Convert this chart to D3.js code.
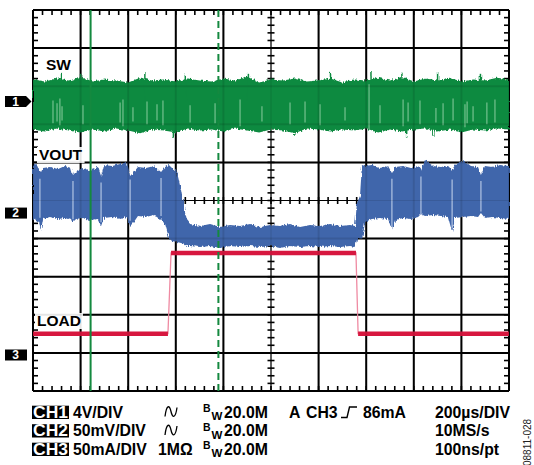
<!DOCTYPE html>
<html><head><meta charset="utf-8">
<script src="https://cdn.jsdelivr.net/npm/d3@7"></script>
<style>
body{margin:0;background:#fff}
svg{display:block}
text{font-family:"Liberation Sans",Arial,Helvetica,sans-serif}
</style>
</head><body>
<svg id="c" width="534" height="465"></svg>
<script>
// ---------------- DATA ----------------
// time axis: 200 µs/div, 10 divisions
const timeTicks = [0,200,400,600,800,1000,1200,1400,1600,1800,2000];
const divTicks = [-5,-4,-3,-2,-1,0,1,2,3,4,5];
// channel settings
const chNames = ["CH1","CH2","CH3"];
const chScaleText = ["4V/DIV","50mV/DIV","50mA/DIV"];
const chPerDiv = [4, 50, 50];          // V, mV, mA per division
const chOffsetDiv = [2.6, -0.33, -4.055]; // ground marker position (div from centre)
const chBandwidth = ["20.0M","20.0M","20.0M"];
const triggerText = ["A","CH3","86mA"];
const timebaseText = ["200µs/DIV","10MS/s","100ns/pt"];
const traceLabels = ["SW","VOUT","LOAD"];
const figureId = "08811-028";

// CH1 SW node (V, AC coupled) envelope
const swTime = [0,50,100,150,200,250,300,350,400,450,500,550,600,650,700,750,800,850,900,950,1000,1050,1100,1150,1200,1250,1300,1350,1400,1450,1500,1550,1600,1650,1700,1750,1800,1850,1900,1950,2000];
const swTop = [2.3,2.1,2.4,2.2,2.6,2.1,2.3,2.2,2.0,2.5,2.2,2.3,2.1,2.4,2.2,2.1,2.4,2.2,2.6,2.0,2.3,2.2,2.4,2.1,2.2,2.4,2.0,2.3,2.2,2.5,2.2,2.6,2.1,2.4,2.2,2.5,2.1,2.3,2.2,2.5,2.3];
const swBot = [-2.95,-3.15,-2.85,-3.05,-3.25,-2.95,-3.15,-2.85,-3.05,-3.35,-2.95,-3.05,-3.25,-2.85,-3.05,-2.95,-3.15,-2.85,-3.05,-3.25,-2.95,-3.05,-3.35,-2.85,-2.95,-3.15,-2.95,-3.05,-2.85,-3.25,-2.95,-3.15,-2.95,-2.85,-3.15,-2.95,-3.25,-2.95,-3.05,-2.85,-2.95];
const swStripeTime = [84,101,113,122,210,366,378,420,479,521,546,660,765,870,962,1080,1143,1206,1311,1412,1458,1555,1576,1626,1693,1723,1765,1815,1824,1849,1907,1941];
const swStripeTop = [0.1,-0.2,0.3,-0.5,-0.4,-0.1,0.2,-0.6,0.0,-0.3,0.1,-0.4,-0.2,0.2,-0.5,-0.1,0.0,-0.3,-0.6,1.8,-0.4,0.2,-0.1,0.1,-0.7,-0.2,0.3,-0.3,0.0,-0.5,-0.1,0.2];
const swStripeBot = [-2.3,-2.1,-2.5,-2.0,-2.4,-2.2,-2.6,-2.1,-2.4,-2.0,-2.5,-2.2,-2.3,-2.6,-2.1,-2.4,-2.2,-2.5,-2.0,-2.9,-2.3,-2.6,-2.1,-2.4,-2.2,-2.5,-2.0,-2.7,-2.3,-2.1,-2.4,-2.2];
const swSpikeTime = [120,200,470,640,905,1250,1420,1550,1700,1880];
const swSpikeV = [3.0,2.9,3.1,2.8,2.9,3.0,3.2,2.9,3.1,2.9];
const swDipTime = [590,1100,1570,1680];
const swDipV = [-3.7,-3.6,-3.8,-3.6];

// CH2 VOUT (mV, AC coupled) envelope
const voutTime = [0,13,25,34,42,71,105,134,160,168,181,206,239,273,286,298,332,366,395,408,424,441,475,508,538,555,571,584,605,622,634,647,660,702,744,786,828,870,912,954,996,1038,1080,1122,1164,1206,1248,1290,1332,1353,1361,1374,1382,1395,1424,1458,1492,1508,1521,1555,1588,1618,1630,1647,1681,1714,1744,1761,1773,1807,1840,1870,1882,1899,1929,1962,2000];
const voutTop = [63,65.6,56.4,53.8,59,60.4,57.7,61.7,59,49.9,53.8,59,56.4,60.4,48.6,63,61.7,64.3,66.9,48.6,53.8,60.4,59,61.7,53.8,60.4,63,59,53.8,30.2,7.9,-9.2,-14.4,-17.1,-14.4,-18.4,-15.7,-17.1,-14.4,-18.4,-15.7,-17.1,-14.4,-18.4,-15.7,-17.1,-14.4,-17.1,-15.7,-17.1,13.1,22.3,63,61.7,63,59,61.7,52.5,60.4,61.7,59,61.7,56.4,69.6,61.7,60.4,61.7,56.4,63,69.6,61.7,60.4,49.9,61.7,60.4,63,61.7];
const voutBot = [-6.6,-9.2,-11.8,-22.3,-7.9,-5.2,-7.9,-6.6,-9.2,-11.8,-7.9,-6.6,-9.2,-7.9,-17.1,-6.6,-5.2,-7.9,-5.2,-17.1,-11.8,-3.9,-5.2,-2.6,-9.2,-14.4,-32.8,-36.7,-38.1,-39.4,-40.7,-43.3,-43.3,-44.6,-43.3,-45.9,-43.3,-44.6,-43.3,-44.6,-43.3,-45.9,-43.3,-44.6,-43.3,-44.6,-43.3,-44.6,-43.3,-44.6,-35.4,-32.8,-35.4,-11.8,-7.9,-6.6,-7.9,-22.3,-9.2,-6.6,-7.9,-5.2,-1.3,-3.9,-2.6,-3.9,-5.2,-24.9,-6.6,-5.2,-3.9,-5.2,0,-6.6,-5.2,-6.6,-7.9];
const voutGapTime = [29,168,286,408,538,1508,1630,1761,1882];
const voutGapTop = [45,42,40,44,46,45,48,44,42];
const voutGapBot = [-6,-8,-12,-10,-4,-18,-2,-20,2];

// CH3 LOAD current (mA)
const loadTime = [0,567,580,1357,1366,2000];
const loadCurrent = [28,28,134,134,28,28];

// cursors (µs)
const cursorSolid = 242;
const cursorDashed = 779;

// ---------------- DRAW ----------------
const svg = d3.select("#c");
const P = {l:33, r:509, t:10, b:391};
const x = d3.scaleLinear().domain([0,2000]).range([P.l,P.r]);
const yDiv = d3.scaleLinear().domain([-5,5]).range([P.b,P.t]);
const chY = chOffsetDiv.map((o,i)=>d3.scaleLinear()
  .domain([(-5-o)*chPerDiv[i],(5-o)*chPerDiv[i]]).range([P.b,P.t]));
const [ySW, yV, yL] = chY;

const defs = svg.append("defs");
const f = defs.append("filter").attr("id","fz")
  .attr("x","-1%").attr("y","-20%").attr("width","102%").attr("height","140%");
f.append("feTurbulence").attr("type","fractalNoise").attr("baseFrequency","0.9 0.12")
  .attr("numOctaves",2).attr("seed",4).attr("result","n");
f.append("feDisplacementMap").attr("in","SourceGraphic").attr("in2","n")
  .attr("scale",4).attr("xChannelSelector","R").attr("yChannelSelector","G");

svg.append("rect").attr("width",534).attr("height",465).attr("fill","#fff");

// grid
function drawGrid(g, op){
  g.selectAll(".gv").data(timeTicks).join("line")
    .attr("x1",d=>x(d)).attr("x2",d=>x(d)).attr("y1",P.t).attr("y2",P.b)
    .attr("stroke","#000").attr("stroke-opacity",op)
    .attr("stroke-width",d=>d===1000?1.2:2);
  g.selectAll(".gh").data(divTicks).join("line")
    .attr("y1",d=>yDiv(d)).attr("y2",d=>yDiv(d)).attr("x1",P.l).attr("x2",P.r)
    .attr("stroke","#000").attr("stroke-opacity",op)
    .attr("stroke-width",d=>d===0?1.2:2);
}
const grid = svg.append("g");
drawGrid(grid, 1);
// minor ticks
const minorT = d3.range(0,2000.1,40);
const minorV = d3.range(-5,5.01,0.2);
const tk = svg.append("g").attr("stroke","#000").attr("stroke-width",1.6);
minorT.forEach(t=>{
  tk.append("line").attr("x1",x(t)).attr("x2",x(t)).attr("y1",P.t).attr("y2",P.t+5);
  tk.append("line").attr("x1",x(t)).attr("x2",x(t)).attr("y1",P.b).attr("y2",P.b-5);
  tk.append("line").attr("x1",x(t)).attr("x2",x(t)).attr("y1",yDiv(0)-3.5).attr("y2",yDiv(0)+3.5);
});
minorV.forEach(v=>{
  tk.append("line").attr("y1",yDiv(v)).attr("y2",yDiv(v)).attr("x1",P.l).attr("x2",P.l+5);
  tk.append("line").attr("y1",yDiv(v)).attr("y2",yDiv(v)).attr("x1",P.r).attr("x2",P.r-5);
  tk.append("line").attr("y1",yDiv(v)).attr("y2",yDiv(v)).attr("x1",x(1000)-3.5).attr("x2",x(1000)+3.5);
});

// trace labels with white background
const labelPos = [[46,70],[39,160],[37,326]];
traceLabels.forEach((s,i)=>{
  const t = svg.append("text").attr("x",labelPos[i][0]).attr("y",labelPos[i][1])
    .attr("font-size",15.5).attr("font-weight","bold").text(s);
  const bb = t.node().getBBox();
  svg.insert("rect","text").attr("x",bb.x-2).attr("y",bb.y+1).attr("width",bb.width+4).attr("height",bb.height-1).attr("fill","#fff");
});

// CH1 SW band
const swData = swTime.map((t,i)=>({t,top:swTop[i],bot:swBot[i]}));
const tr = svg.append("g");
const swG = tr.append("g").attr("filter","url(#fz)");
swG.append("path").datum(swData)
  .attr("d",d3.area().x(d=>x(d.t)).y0(d=>ySW(d.bot)).y1(d=>ySW(d.top)))
  .attr("fill","#0d8a40");
swG.selectAll(".sp").data(swSpikeTime).join("line")
  .attr("x1",d=>x(d)).attr("x2",d=>x(d)).attr("y1",ySW(0)).attr("y2",(d,i)=>ySW(swSpikeV[i]))
  .attr("stroke","#0d8a40").attr("stroke-width",1.5);
swG.selectAll(".dp").data(swDipTime).join("line")
  .attr("x1",d=>x(d)).attr("x2",d=>x(d)).attr("y1",ySW(0)).attr("y2",(d,i)=>ySW(swDipV[i]))
  .attr("stroke","#0d8a40").attr("stroke-width",1.5);
tr.selectAll(".st").data(swStripeTime).join("line")
  .attr("x1",d=>x(d)).attr("x2",d=>x(d))
  .attr("y1",(d,i)=>ySW(swStripeTop[i])).attr("y2",(d,i)=>ySW(swStripeBot[i]))
  .attr("stroke","#6dbd89").attr("stroke-width",1.3);

// CH2 VOUT band
const vData = voutTime.map((t,i)=>({t,top:voutTop[i],bot:voutBot[i]}));
tr.append("g").attr("filter","url(#fz)").append("path").datum(vData)
  .attr("d",d3.area().x(d=>x(d.t)).y0(d=>yV(d.bot)).y1(d=>yV(d.top)))
  .attr("fill","#4166ab");
tr.selectAll(".vg").data(voutGapTime).join("line")
  .attr("x1",d=>x(d)).attr("x2",d=>x(d))
  .attr("y1",(d,i)=>yV(voutGapTop[i])).attr("y2",(d,i)=>yV(voutGapBot[i]))
  .attr("stroke","#a9bddf").attr("stroke-width",1.3);

// CH3 LOAD
const lData = loadTime.map((t,i)=>({t,v:loadCurrent[i]}));
tr.append("path").datum(lData)
  .attr("d",d3.line().x(d=>x(d.t)).y(d=>yL(d.v)))
  .attr("fill","none").attr("stroke","#ef8aa2").attr("stroke-width",1.3);
const flat = d3.pairs(lData).filter(([a,b])=>a.v===b.v);
tr.selectAll(".lf").data(flat).join("line")
  .attr("x1",d=>x(d[0].t)).attr("x2",d=>x(d[1].t))
  .attr("y1",d=>yL(d[0].v)).attr("y2",d=>yL(d[1].v))
  .attr("stroke","#d7173f").attr("stroke-width",4.5);

// faint grid over traces
drawGrid(svg.append("g"), 0.1);

// cursors
svg.append("line").attr("x1",x(cursorSolid)).attr("x2",x(cursorSolid)).attr("y1",P.t).attr("y2",P.b)
  .attr("stroke","#14893f").attr("stroke-width",2);
svg.append("line").attr("x1",x(cursorDashed)).attr("x2",x(cursorDashed)).attr("y1",P.t).attr("y2",P.b)
  .attr("stroke","#14893f").attr("stroke-width",2).attr("stroke-dasharray","7,4");

// channel markers
chOffsetDiv.forEach((o,i)=>{
  const yc = yDiv(o);
  const pts = i===0
    ? [[5,yc-5.5],[26,yc-5.5],[31.5,yc],[26,yc+5.5],[5,yc+5.5]]
    : [[5,yc-5.5],[27,yc-5.5],[27,yc+5.5],[5,yc+5.5]];
  svg.append("polygon").attr("points",pts.map(p=>p.join(",")).join(" ")).attr("fill","#000");
  svg.append("text").attr("x",15.5).attr("y",yc+4.3).attr("text-anchor","middle")
    .attr("font-size",12).attr("font-weight","bold").attr("fill","#fff").text(String(i+1));
});

// bottom readout
const rowY = [417.5, 436, 454.5];
const fs = 15.8;
chNames.forEach((n,i)=>{
  const y = rowY[i];
  svg.append("rect").attr("x",32).attr("y",y-11.8).attr("width",37).attr("height",13.3).attr("fill","#000");
  svg.append("text").attr("x",33).attr("y",y).attr("font-size",fs).attr("font-weight","bold")
    .attr("fill","#fff").attr("textLength",35).attr("lengthAdjust","spacingAndGlyphs").text(n);
  svg.append("text").attr("x",73).attr("y",y).attr("font-size",fs).attr("font-weight","bold").text(chScaleText[i]);
  if(i<2){
    const sx = 165, sy = y-6;
    svg.append("path").attr("d",`M${sx},${sy+5} C${sx+1.5},${sy-7} ${sx+4.5},${sy-7} ${sx+6},${sy} S${sx+10.5},${sy+7} ${sx+12},${sy-4}`)
      .attr("fill","none").attr("stroke","#000").attr("stroke-width",1.3);
  } else {
    svg.append("text").attr("x",158).attr("y",y).attr("font-size",fs).attr("font-weight","bold").text("1MΩ");
  }
  svg.append("text").attr("x",203).attr("y",y-5.5).attr("font-size",10.5).attr("font-weight","bold").text("B");
  svg.append("text").attr("x",211.5).attr("y",y+2.5).attr("font-size",11.5).attr("font-weight","bold").text("W");
  svg.append("text").attr("x",224).attr("y",y).attr("font-size",fs).attr("font-weight","bold").text(chBandwidth[i]);
  svg.append("text").attr("x",435).attr("y",y).attr("font-size",fs).attr("font-weight","bold").text(timebaseText[i]);
});
// trigger
svg.append("text").attr("x",289).attr("y",rowY[0]).attr("font-size",fs).attr("font-weight","bold").text(triggerText[0]);
svg.append("text").attr("x",306).attr("y",rowY[0]).attr("font-size",fs).attr("font-weight","bold").text(triggerText[1]);
svg.append("path").attr("d",`M341,${rowY[0]} H347 L349.5,${rowY[0]-10.5} H357`)
  .attr("fill","none").attr("stroke","#000").attr("stroke-width",1.4);
svg.append("text").attr("x",363).attr("y",rowY[0]).attr("font-size",fs).attr("font-weight","bold").text(triggerText[2]);
// figure id
svg.append("text").attr("transform","translate(531,466) rotate(-90)")
  .attr("font-size",10).attr("fill","#222").text(figureId);
</script>
</body></html>
